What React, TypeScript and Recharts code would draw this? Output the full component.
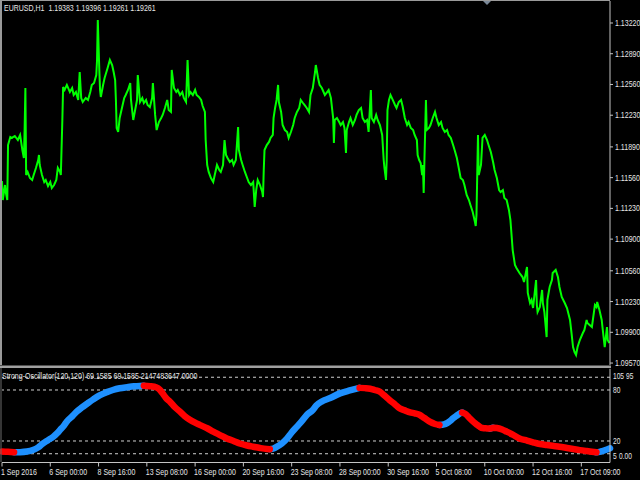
import React from 'react';
import { LineChart, Line, XAxis, YAxis, ReferenceLine } from 'recharts';

const W = 640;
const H = 480;
const AXIS = '#c4c4c4';
const TXT = '#e6e6e6';
const FONT = '"Liberation Sans", Arial, sans-serif';
const UP = '#1e90ff';
const DOWN = '#ff0000';

// H1 bars since 1 Sep 2016, close prices
const pricePoints: [number, number][] = [
  [0,1.11524],[1,1.1132],[4,1.11481],[5,1.11406],[7,1.1132],[8,1.1191],[11,1.11996],[13,1.11986],[17,1.12007],[21,1.11964],
  [24,1.12018],[27,1.11857],[29,1.11771],[30,1.12071],[31,1.12522],[32,1.11588],[34,1.11621],[37,1.11556],[40,1.11535],[42,1.11588],
  [45,1.11664],[48,1.11749],[49,1.11803],[50,1.11696],[53,1.11588],[56,1.11513],[58,1.11535],[61,1.1147],[64,1.11513],[66,1.11449],
  [69,1.11481],[72,1.11535],[74,1.11664],[77,1.11621],[78,1.11588],[80,1.12179],[81,1.12533],[83,1.12501],[86,1.12555],[90,1.12479],
  [93,1.12522],[95,1.12447],[98,1.12479],[101,1.12394],[103,1.12694],[105,1.12415],[107,1.12372],[111,1.12415],[114,1.12394],[117,1.12479],
  [119,1.12555],[122,1.12576],[125,1.12662],[126,1.12823],[127,1.13252],[129,1.12716],[130,1.12501],[131,1.12426],[134,1.12555],[136,1.1263],
  [140,1.12737],[143,1.12823],[146,1.12769],[148,1.12694],[150,1.12608],[151,1.12394],[152,1.12093],[154,1.1205],[156,1.122],[159,1.12308],
  [162,1.12415],[164,1.12447],[167,1.12501],[170,1.12576],[171,1.12394],[174,1.12179],[176,1.12265],[179,1.12394],[180,1.12662],[183,1.12372],
  [186,1.12415],[188,1.12361],[191,1.12394],[193,1.1234],[196,1.12318],[199,1.12415],[200,1.12576],[203,1.12233],[205,1.12071],[208,1.12157],
  [211,1.122],[213,1.12233],[216,1.12308],[219,1.12394],[221,1.12286],[224,1.12265],[225,1.12716],[228,1.12522],[231,1.12479],[233,1.12501],
  [236,1.12447],[239,1.12479],[241,1.12415],[244,1.12372],[246,1.12823],[248,1.12447],[250,1.12479],[253,1.12447],[256,1.12501],[258,1.12447],
  [261,1.12426],[264,1.12394],[266,1.12329],[269,1.12265],[270,1.11964],[272,1.11696],[274,1.11621],[277,1.11556],[280,1.11513],[282,1.11588],
  [285,1.11696],[288,1.11642],[290,1.11621],[293,1.11696],[295,1.11964],[297,1.11803],[299,1.11771],[302,1.11728],[305,1.11749],[307,1.11696],
  [310,1.11749],[313,1.12104],[314,1.11857],[317,1.11749],[319,1.11696],[322,1.11621],[325,1.11556],[327,1.11513],[330,1.11481],[333,1.11513],
  [335,1.11245],[337,1.11427],[339,1.11535],[342,1.11481],[345,1.11406],[346,1.11352],[347,1.11642],[348,1.11857],[351,1.1191],[354,1.11943],
  [356,1.11986],[359,1.12018],[360,1.122],[362,1.12308],[364,1.12394],[366,1.12555],[367,1.12372],[370,1.12265],[372,1.12125],[375,1.12071],
  [378,1.1205],[380,1.11986],[383,1.1205],[386,1.12125],[388,1.122],[391,1.12265],[394,1.12308],[396,1.12394],[399,1.12361],[401,1.1234],
  [404,1.12308],[407,1.12265],[409,1.12447],[412,1.12522],[415,1.12694],[416,1.12769],[419,1.1263],[421,1.12555],[424,1.12522],[428,1.12447],
  [431,1.12479],[433,1.12501],[436,1.12415],[439,1.122],[440,1.11932],[441,1.12179],[444,1.122],[447,1.12157],[449,1.12125],[452,1.12157],
  [454,1.12093],[456,1.11825],[457,1.12071],[460,1.12157],[462,1.122],[465,1.12125],[468,1.12179],[470,1.12233],[473,1.12286],[476,1.12308],
  [478,1.122],[481,1.12157],[484,1.12179],[486,1.1205],[489,1.12501],[490,1.122],[493,1.12157],[496,1.12233],[498,1.12179],[501,1.12125],
  [504,1.12018],[506,1.11749],[507,1.11664],[509,1.11535],[510,1.11749],[511,1.12286],[513,1.12394],[515,1.12447],[518,1.12394],[521,1.1234],
  [523,1.12308],[526,1.12372],[529,1.12394],[531,1.12329],[534,1.122],[537,1.12125],[539,1.12157],[542,1.12093],[545,1.12071],[547,1.12018],
  [550,1.11964],[551,1.11803],[553,1.11749],[555,1.11717],[557,1.11588],[558,1.11696],[559,1.11395],[560,1.11749],[562,1.12394],[563,1.12071],
  [566,1.12093],[568,1.12125],[571,1.122],[574,1.12265],[576,1.122],[579,1.12125],[582,1.12157],[584,1.12093],[587,1.1205],[590,1.12071],
  [592,1.12018],[595,1.11986],[598,1.1191],[600,1.11857],[603,1.11771],[606,1.11642],[608,1.11556],[611,1.11535],[613,1.11481],[616,1.11374],
  [619,1.1132],[621,1.11266],[624,1.11191],[627,1.11084],[628,1.11041],[629,1.11159],[631,1.12018],[632,1.11588],[635,1.11696],[637,1.11986],
  [640,1.12018],[643,1.11964],[645,1.1191],[648,1.11835],[651,1.11728],[653,1.11642],[656,1.11556],[659,1.11427],[661,1.11406],[664,1.11427],
  [666,1.11341],[669,1.1132],[672,1.11213],[674,1.11105],[677,1.10783],[680,1.10622],[682,1.1059],[686,1.10536],[690,1.10493],[692,1.1044],
  [696,1.10601],[697,1.10322],[700,1.10214],[702,1.10247],[704,1.10161],[708,1.10461],[709,1.10193],[710,1.10118],[713,1.10171],[716,1.10354],
  [717,1.10214],[719,1.10118],[722,1.09849],[723,1.10247],[726,1.10386],[729,1.10461],[730,1.10536],[734,1.10569],[737,1.10493],[739,1.10386],
  [742,1.10279],[746,1.10214],[749,1.10161],[753,1.10032],[755,1.09892],[757,1.09742],[759,1.09688],[761,1.09656],[763,1.09742],[766,1.09817],
  [770,1.09892],[772,1.09924],[775,1.10032],[776,1.1],[782,1.09957],[786,1.10193],[788,1.10171],[789,1.10225],[792,1.10139],[795,1.10032],
  [796,1.09957],[799,1.09742],[802,1.09957],[803,1.09817],[805,1.09785],
];

// Strong-Oscillator(120,120) values
const oscPoints: [number, number][] = [
  [0,7.6],[8,7.3],[16,6.8],[24,6.9],[33,7.6],[41,9.4],[48,12.5],[54,17],[61,21],[68,25],[73,29],[77,33],[82,38],[86,43],
  [93,49],[99,54.5],[106,59.5],[113,64],[121,69],[130,74],[139,77.5],[147,80],[156,82],[166,83.3],[175,84.3],[183,84.8],[188,85],
  [196,84.5],[205,83],[209,80.5],[213,76],[217,71],[223,66],[229,60],[236,54.5],[242,49.5],[249,45],[256,41.5],[262,39],[272,35],
  [280,31],[289,27],[298,23],[307,20],[315,17],[325,14.7],[333,13.3],[342,11.8],[351,10.6],[355,10.3],[360,11.2],[364,13],[371,17],
  [378,23],[384,30],[391,37],[398,44],[404,50.6],[412,56.5],[417,62],[424,66.5],[435,70.5],[448,76],[461,79.5],[474,82.5],[481,82.2],
  [488,81.5],[494,80],[501,78],[507,73.5],[514,68],[521,63],[527,58.5],[534,56],[541,53.7],[547,52.5],[554,50.6],[560,47],[567,42.7],
  [574,40],[580,38.8],[586,39.5],[590,41],[594,43.5],[598,46.7],[603,50],[607,52.5],[610,53.5],[615,51.5],[620,46.7],[625,42.5],
  [629,39.6],[633,37],[637,35.2],[643,34.8],[647,34.6],[651,35.6],[656,35.3],[663,33.5],[669,31],[677,27.5],[686,23],[696,20.5],
  [704,18.5],[713,16.5],[722,15.3],[730,14.3],[739,13.3],[749,11.8],[757,10.6],[766,9.3],[775,8.2],[782,7.4],[788,6.7],[792,7.2],
  [796,8.2],[802,10],[806,11.4],
];

const priceTicks = [1.1322, 1.1289, 1.1256, 1.1223, 1.1189, 1.1156, 1.1123, 1.109, 1.1056, 1.1023, 1.099, 1.0957];
const oscTicks = [105, 95, 80, 20, 5, 0];
const oscTickLabels = ['105', '95', '80', '20', '5', '0.00'];
const oscLevels = [95, 80, 20, 5];
const dateTicks = [0, 64, 128, 192, 256, 320, 384, 448, 512, 576, 640, 704, 768];
const dateLabels = [
  '1 Sep 2016', '6 Sep 00:00', '8 Sep 16:00', '13 Sep 08:00', '16 Sep 00:00', '20 Sep 16:00', '23 Sep 08:00',
  '28 Sep 00:00', '30 Sep 16:00', '5 Oct 08:00', '10 Oct 00:00', '12 Oct 16:00', '17 Oct 09:00',
];

const priceData = pricePoints.map(([bar, close]) => ({ bar, close }));

// split the oscillator into rising (blue) and falling (red) pieces
const oscData = oscPoints.map(([bar, v], i) => {
  const prev = i > 0 ? oscPoints[i - 1][1] : null;
  const next = i < oscPoints.length - 1 ? oscPoints[i + 1][1] : null;
  const rising = (prev !== null && v > prev) || (next !== null && next > v);
  const falling = (prev !== null && v < prev) || (next !== null && next < v);
  return { bar, up: rising ? v : null, down: falling ? v : null };
});

const SX = 0.78;

const PriceTick = (props: any) => {
  const { x, y, payload } = props;
  return (
    <text transform={`translate(${x},${y + 3}) scale(${SX},1)`} fill={TXT} fontSize={9} fontFamily={FONT}>
      {Number(payload.value).toFixed(5)}
    </text>
  );
};

// the terminal prints 105/95 and 5/0.00 on top of each other; here they share a line instead
const oscLabelPos: Record<number, [number, number]> = {
  105: [0, 10], 95: [13, 1.5], 80: [0, 3], 20: [0, 3], 5: [0, 5], 0: [6, 1.25],
};

const OscTick = (props: any) => {
  const { x, y, payload } = props;
  const i = oscTicks.indexOf(payload.value);
  const [dx, dy] = oscLabelPos[payload.value];
  return (
    <text transform={`translate(${x + dx},${y + dy}) scale(${SX},1)`} fill={TXT} fontSize={8.5} fontFamily={FONT}>
      {oscTickLabels[i]}
    </text>
  );
};

const DateTick = (props: any) => {
  const { x, y, payload } = props;
  const i = dateTicks.indexOf(payload.value);
  return (
    <text transform={`translate(${x - 1},${y + 8}) scale(${SX},1)`} fill={TXT} fontSize={9} fontFamily={FONT}>
      {dateLabels[i]}
    </text>
  );
};

const layer: React.CSSProperties = { position: 'absolute', left: 0, top: 0 };

export default function App() {
  return (
    <div style={{ position: 'absolute', left: 0, top: 0, width: W, height: H, background: '#000', overflow: 'hidden' }}>
      <div style={layer}>
        <LineChart width={W} height={H} data={priceData} margin={{ top: 1, right: 0, bottom: 115, left: 2 }}>
          <XAxis dataKey="bar" type="number" domain={[0, 806]} hide />
          <YAxis
            orientation="right"
            width={30}
            type="number"
            domain={[1.09549, 1.13456]}
            allowDataOverflow
            ticks={priceTicks}
            interval={0}
            axisLine={{ stroke: AXIS }}
            tickLine={{ stroke: AXIS }}
            tickSize={3}
            tickMargin={2}
            tick={<PriceTick />}
          />
          <Line dataKey="close" type="linear" stroke="#00ff00" strokeWidth={2} strokeLinejoin="miter" dot={false} isAnimationActive={false} />
        </LineChart>
      </div>
      <div style={layer}>
        <LineChart width={W} height={H} data={oscData} margin={{ top: 368.75, right: 0, bottom: 0, left: 2 }}>
          <XAxis
            dataKey="bar"
            type="number"
            domain={[0, 806]}
            ticks={dateTicks}
            interval={0}
            height={17.5}
            axisLine={{ stroke: AXIS }}
            tickLine={{ stroke: AXIS }}
            tickSize={4}
            tickMargin={0}
            tick={<DateTick />}
          />
          <YAxis
            orientation="right"
            width={30}
            type="number"
            domain={[-5.3, 105]}
            allowDataOverflow
            ticks={oscTicks}
            interval={0}
            axisLine={{ stroke: AXIS }}
            tickLine={false}
            tickSize={0}
            tickMargin={3}
            tick={<OscTick />}
          />
          {oscLevels.map(l => (
            <ReferenceLine key={l} y={l} stroke="#d0d0d0" strokeDasharray="3 3" />
          ))}
          <Line dataKey="up" type="monotone" stroke={UP} strokeWidth={6.5} strokeLinecap="round" dot={false} isAnimationActive={false} />
          <Line dataKey="down" type="monotone" stroke={DOWN} strokeWidth={6.5} strokeLinecap="round" dot={false} isAnimationActive={false} />
        </LineChart>
      </div>
      <svg width={W} height={H} style={{ ...layer, pointerEvents: 'none' }}>
        <line x1={0} y1={0.5} x2={610} y2={0.5} stroke="#9a9a9a" />
        <line x1={1} y1={0} x2={1} y2={365} stroke="#9a9a9a" strokeWidth={2} />
        <line x1={1} y1={368} x2={1} y2={462} stroke="#6a6a6a" strokeWidth={1} />
        <rect x={0} y={365.5} width={611} height={2.5} fill="#a0a0a0" />
        <polygon points="483,1 491,1 487,5" fill="#7a8898" />
        <text x={4} y={11} fill={TXT} fontSize={9} fontFamily={FONT} transform={`translate(${4 * (1 - SX)},0) scale(${SX},1)`} style={{ whiteSpace: 'pre' }}>
          {'EURUSD,H1  1.19383 1.19396 1.19261 1.19261'}
        </text>
        <text x={2} y={379.5} fill={TXT} fontSize={9} fontFamily={FONT} transform={`translate(${2 * (1 - SX)},0) scale(${SX},1)`} style={{ whiteSpace: 'pre' }}>
          {'Strong-Oscillator(120,120) 69.1585 69.1585 2147483647.0000'}
        </text>
      </svg>
    </div>
  );
}
